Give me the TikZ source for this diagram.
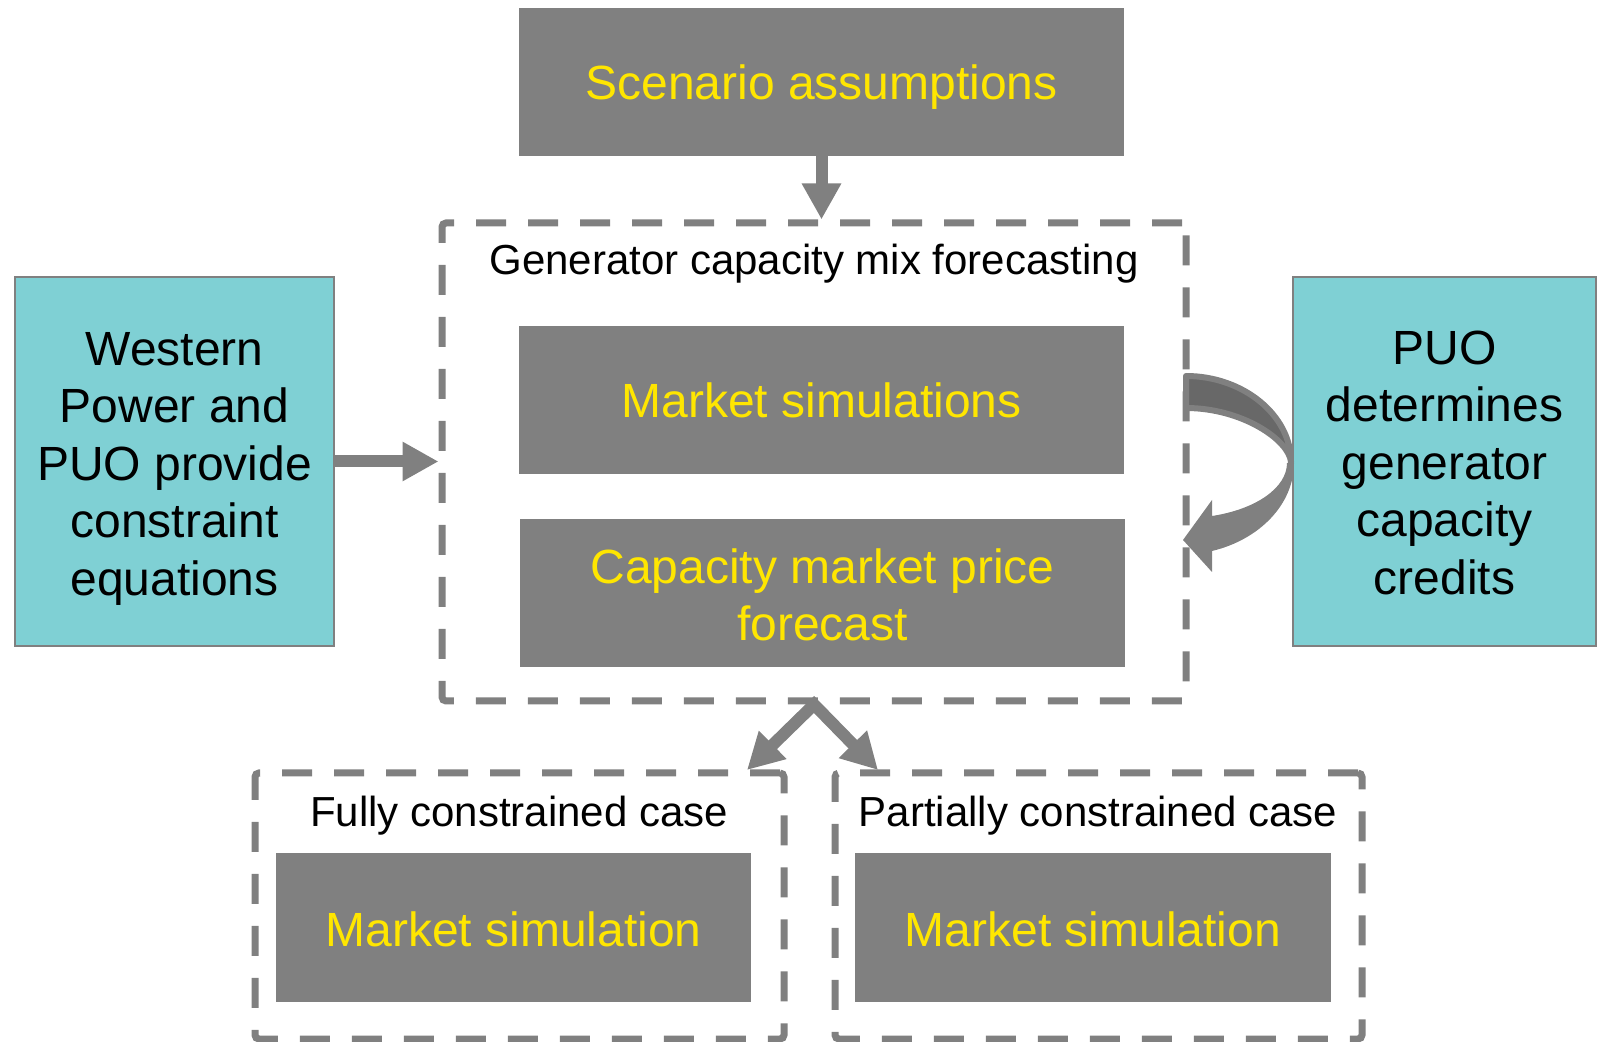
\documentclass[tikz,border=0pt]{standalone}
\usepackage{fontspec}
\setmainfont{Liberation Sans}
\usetikzlibrary{arrows.meta}
\definecolor{boxgray}{HTML}{808080}
\definecolor{darkband}{HTML}{686868}
\definecolor{tealfill}{HTML}{7FD0D4}
\definecolor{labelyellow}{HTML}{FFE600}

\begin{document}
\begin{tikzpicture}[x=0.5pt,y=-0.5pt,
  graybox/.style={fill=boxgray, draw=none, inner sep=0pt, text=labelyellow,
    font=\fontsize{24}{28.5}\selectfont, align=center,
    minimum width=302.5pt, minimum height=74pt},
  oneline/.style={text height=17.5pt, text depth=0pt},
  yellowtext/.style={inner sep=0pt, text=labelyellow, align=center,
    font=\fontsize{24}{28.5}\selectfont},
  tealbox/.style={fill=tealfill, draw=boxgray, line width=1pt, inner sep=0pt,
    minimum height=184.5pt},
  tealtext/.style={inner sep=0pt, text=black, align=center,
    font=\fontsize{24}{28.75}\selectfont},
  dashframe/.style={draw=boxgray, line width=3.5pt, dash pattern=on 15pt off 11pt,
    rounded corners=2pt, inner sep=0pt},
  caption/.style={font=\fontsize{21}{25}\selectfont, text=black, inner sep=0pt},
  flow/.style={draw=boxgray, line width=6pt, -{Triangle[length=18pt,width=18.5pt]}},
  twoway/.style={draw=boxgray, line width=6pt, line join=miter,
    {Triangle[length=18pt,width=18.5pt]}-{Triangle[length=18pt,width=18.5pt]}},
]

\useasboundingbox (0,0) rectangle (1602,1042);

% dashed frames
\node[dashframe, minimum width=372pt, minimum height=239pt] (mix) at (814,462) {};
\node[dashframe, minimum width=264.5pt, minimum height=133pt] (fully) at (519.5,906) {};
\node[dashframe, minimum width=263.5pt, minimum height=133pt] (partial) at (1098.5,906) {};

% captions of the frames
\node[caption] (mixcap) at (814,264) {Generator capacity mix forecasting};
\node[caption] (fullycap) at (519,816) {Fully constrained case};
\node[caption] (partialcap) at (1098,816) {Partially constrained case};

% grey process boxes
\node[graybox, oneline] (scen) at (821.5,82) {Scenario assumptions};
\node[graybox, oneline] (msim) at (821.5,400) {Market simulations};
\node[graybox] (cap) at (822.5,593) {};
\node[yellowtext] (captext) at ([yshift=-1pt]cap.center) {Capacity market price\\forecast};
\node[graybox, minimum width=237.5pt, minimum height=74.5pt] (simA)
  at (513.5,927.5) {};
\node[yellowtext, oneline] (simAtext) at ([yshift=-0.75pt]simA.center) {Market simulation};
\node[graybox, minimum width=238pt, minimum height=74.5pt] (simB)
  at (1093,927.5) {};
\node[yellowtext, oneline] (simBtext) at ([yshift=-0.75pt]simB.center) {Market simulation};

% teal input boxes
\node[tealbox, minimum width=159.5pt] (west) at (174.5,461.5) {};
\node[tealtext] (westtext) at ([yshift=-3.5pt]west.center)
  {Western\\Power and\\PUO provide\\constraint\\equations};
\node[tealbox, minimum width=151.5pt] (puo) at (1444.5,461.5) {};
\node[tealtext] (puotext) at ([yshift=-0.5pt]puo.center)
  {PUO\\determines\\generator\\capacity\\credits};

% straight connectors
\draw[flow] (scen.south) -- (scen.south |- mix.north);
\draw[flow] (west.east) -- (west.east -| mix.west);

\coordinate (tipL) at (747,770);
\coordinate (tipR) at (878,770);
\draw[twoway] (tipL) -- (mix.south) -- (tipR);

% curved return arrow from the credits box
\filldraw[fill=darkband, draw=boxgray, line width=3pt, line join=round]
  (1186,376) .. controls (1243,376) and (1291,415) .. (1291,462)
  .. controls (1289,440) and (1242,408) .. (1186,408) -- cycle;
\fill[boxgray]
  (1294,463) .. controls (1294,503.6) and (1260.3,539.4) .. (1212,551)
  -- (1212,572) -- (1183,540) -- (1212,500) -- (1212,516)
  .. controls (1256.4,509.2) and (1287,487.5) .. (1287,463) -- cycle;

\end{tikzpicture}
\end{document}
